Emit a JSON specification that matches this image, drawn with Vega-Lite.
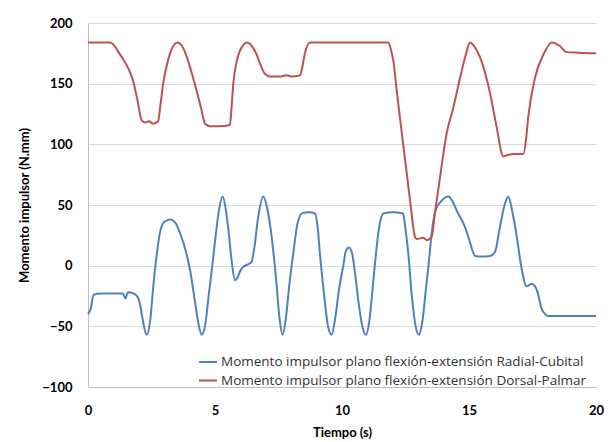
{
  "$schema": "https://vega.github.io/schema/vega-lite/v6.json",
  "width": 508,
  "height": 364,
  "autosize": {"type": "none"},
  "padding": {"left": 88, "top": 23, "right": 15, "bottom": 55},
  "background": "white",
  "config": {"view": {"stroke": null}, "font": "Lato"},
  "data": {
    "values": [
      {"serie": "Radial-Cubital", "tiempo": 0, "momento": -40},
      {"serie": "Radial-Cubital", "tiempo": 0.1, "momento": -36},
      {"serie": "Radial-Cubital", "tiempo": 0.22, "momento": -24},
      {"serie": "Radial-Cubital", "tiempo": 0.5, "momento": -23},
      {"serie": "Radial-Cubital", "tiempo": 1.0, "momento": -23},
      {"serie": "Radial-Cubital", "tiempo": 1.38, "momento": -23},
      {"serie": "Radial-Cubital", "tiempo": 1.47, "momento": -27},
      {"serie": "Radial-Cubital", "tiempo": 1.58, "momento": -22},
      {"serie": "Radial-Cubital", "tiempo": 1.8, "momento": -23},
      {"serie": "Radial-Cubital", "tiempo": 1.93, "momento": -25},
      {"serie": "Radial-Cubital", "tiempo": 2.05, "momento": -32},
      {"serie": "Radial-Cubital", "tiempo": 2.15, "momento": -44},
      {"serie": "Radial-Cubital", "tiempo": 2.31, "momento": -57},
      {"serie": "Radial-Cubital", "tiempo": 2.45, "momento": -45},
      {"serie": "Radial-Cubital", "tiempo": 2.57, "momento": -17},
      {"serie": "Radial-Cubital", "tiempo": 2.7, "momento": 8},
      {"serie": "Radial-Cubital", "tiempo": 2.83, "momento": 27},
      {"serie": "Radial-Cubital", "tiempo": 3.0, "momento": 36},
      {"serie": "Radial-Cubital", "tiempo": 3.23, "momento": 38},
      {"serie": "Radial-Cubital", "tiempo": 3.45, "momento": 35},
      {"serie": "Radial-Cubital", "tiempo": 3.62, "momento": 27},
      {"serie": "Radial-Cubital", "tiempo": 3.85, "momento": 12},
      {"serie": "Radial-Cubital", "tiempo": 4.02, "momento": -4},
      {"serie": "Radial-Cubital", "tiempo": 4.2, "momento": -28},
      {"serie": "Radial-Cubital", "tiempo": 4.35, "momento": -48},
      {"serie": "Radial-Cubital", "tiempo": 4.48, "momento": -57},
      {"serie": "Radial-Cubital", "tiempo": 4.62, "momento": -48},
      {"serie": "Radial-Cubital", "tiempo": 4.75, "momento": -25},
      {"serie": "Radial-Cubital", "tiempo": 4.87, "momento": -4},
      {"serie": "Radial-Cubital", "tiempo": 5.0, "momento": 20},
      {"serie": "Radial-Cubital", "tiempo": 5.15, "momento": 45},
      {"serie": "Radial-Cubital", "tiempo": 5.3, "momento": 57},
      {"serie": "Radial-Cubital", "tiempo": 5.42, "momento": 47},
      {"serie": "Radial-Cubital", "tiempo": 5.53, "momento": 29},
      {"serie": "Radial-Cubital", "tiempo": 5.65, "momento": 5},
      {"serie": "Radial-Cubital", "tiempo": 5.79, "momento": -12},
      {"serie": "Radial-Cubital", "tiempo": 5.9, "momento": -9},
      {"serie": "Radial-Cubital", "tiempo": 6.0, "momento": -4},
      {"serie": "Radial-Cubital", "tiempo": 6.11, "momento": -1},
      {"serie": "Radial-Cubital", "tiempo": 6.3, "momento": 1},
      {"serie": "Radial-Cubital", "tiempo": 6.44, "momento": 3},
      {"serie": "Radial-Cubital", "tiempo": 6.55, "momento": 15},
      {"serie": "Radial-Cubital", "tiempo": 6.7, "momento": 40},
      {"serie": "Radial-Cubital", "tiempo": 6.9, "momento": 57},
      {"serie": "Radial-Cubital", "tiempo": 7.05, "momento": 48},
      {"serie": "Radial-Cubital", "tiempo": 7.23, "momento": 24},
      {"serie": "Radial-Cubital", "tiempo": 7.4, "momento": -10},
      {"serie": "Radial-Cubital", "tiempo": 7.55, "momento": -45},
      {"serie": "Radial-Cubital", "tiempo": 7.66, "momento": -57},
      {"serie": "Radial-Cubital", "tiempo": 7.78, "momento": -45},
      {"serie": "Radial-Cubital", "tiempo": 7.93, "momento": -15},
      {"serie": "Radial-Cubital", "tiempo": 8.08, "momento": 10},
      {"serie": "Radial-Cubital", "tiempo": 8.25, "momento": 35},
      {"serie": "Radial-Cubital", "tiempo": 8.45, "momento": 43.5},
      {"serie": "Radial-Cubital", "tiempo": 8.7, "momento": 44},
      {"serie": "Radial-Cubital", "tiempo": 8.94, "momento": 43},
      {"serie": "Radial-Cubital", "tiempo": 9.05, "momento": 30},
      {"serie": "Radial-Cubital", "tiempo": 9.13, "momento": 10},
      {"serie": "Radial-Cubital", "tiempo": 9.3, "momento": -25},
      {"serie": "Radial-Cubital", "tiempo": 9.45, "momento": -50},
      {"serie": "Radial-Cubital", "tiempo": 9.59, "momento": -57},
      {"serie": "Radial-Cubital", "tiempo": 9.72, "momento": -45},
      {"serie": "Radial-Cubital", "tiempo": 9.88, "momento": -20},
      {"serie": "Radial-Cubital", "tiempo": 10.05, "momento": 0},
      {"serie": "Radial-Cubital", "tiempo": 10.15, "momento": 12},
      {"serie": "Radial-Cubital", "tiempo": 10.27, "momento": 15},
      {"serie": "Radial-Cubital", "tiempo": 10.4, "momento": 10},
      {"serie": "Radial-Cubital", "tiempo": 10.5, "momento": -4},
      {"serie": "Radial-Cubital", "tiempo": 10.65, "momento": -30},
      {"serie": "Radial-Cubital", "tiempo": 10.8, "momento": -50},
      {"serie": "Radial-Cubital", "tiempo": 10.94, "momento": -57},
      {"serie": "Radial-Cubital", "tiempo": 11.08, "momento": -45},
      {"serie": "Radial-Cubital", "tiempo": 11.2, "momento": -20},
      {"serie": "Radial-Cubital", "tiempo": 11.3, "momento": 2},
      {"serie": "Radial-Cubital", "tiempo": 11.45, "momento": 30},
      {"serie": "Radial-Cubital", "tiempo": 11.63, "momento": 43},
      {"serie": "Radial-Cubital", "tiempo": 12.0, "momento": 44},
      {"serie": "Radial-Cubital", "tiempo": 12.4, "momento": 43},
      {"serie": "Radial-Cubital", "tiempo": 12.5, "momento": 30},
      {"serie": "Radial-Cubital", "tiempo": 12.61, "momento": 10},
      {"serie": "Radial-Cubital", "tiempo": 12.75, "momento": -25},
      {"serie": "Radial-Cubital", "tiempo": 12.9, "momento": -50},
      {"serie": "Radial-Cubital", "tiempo": 13.03, "momento": -57},
      {"serie": "Radial-Cubital", "tiempo": 13.17, "momento": -45},
      {"serie": "Radial-Cubital", "tiempo": 13.3, "momento": -20},
      {"serie": "Radial-Cubital", "tiempo": 13.4, "momento": -1},
      {"serie": "Radial-Cubital", "tiempo": 13.55, "momento": 30},
      {"serie": "Radial-Cubital", "tiempo": 13.69, "momento": 46},
      {"serie": "Radial-Cubital", "tiempo": 13.9, "momento": 53},
      {"serie": "Radial-Cubital", "tiempo": 14.19, "momento": 57},
      {"serie": "Radial-Cubital", "tiempo": 14.35, "momento": 53},
      {"serie": "Radial-Cubital", "tiempo": 14.55, "momento": 44},
      {"serie": "Radial-Cubital", "tiempo": 14.84, "momento": 32},
      {"serie": "Radial-Cubital", "tiempo": 15.0, "momento": 22},
      {"serie": "Radial-Cubital", "tiempo": 15.24, "momento": 8},
      {"serie": "Radial-Cubital", "tiempo": 15.5, "momento": 7.5},
      {"serie": "Radial-Cubital", "tiempo": 15.83, "momento": 8},
      {"serie": "Radial-Cubital", "tiempo": 16.02, "momento": 11},
      {"serie": "Radial-Cubital", "tiempo": 16.2, "momento": 30},
      {"serie": "Radial-Cubital", "tiempo": 16.4, "momento": 50},
      {"serie": "Radial-Cubital", "tiempo": 16.55, "momento": 57},
      {"serie": "Radial-Cubital", "tiempo": 16.7, "momento": 45},
      {"serie": "Radial-Cubital", "tiempo": 16.88, "momento": 24},
      {"serie": "Radial-Cubital", "tiempo": 17.05, "momento": 0},
      {"serie": "Radial-Cubital", "tiempo": 17.27, "momento": -17},
      {"serie": "Radial-Cubital", "tiempo": 17.47, "momento": -15},
      {"serie": "Radial-Cubital", "tiempo": 17.6, "momento": -17},
      {"serie": "Radial-Cubital", "tiempo": 17.7, "momento": -22},
      {"serie": "Radial-Cubital", "tiempo": 17.85, "momento": -35},
      {"serie": "Radial-Cubital", "tiempo": 18.0, "momento": -40},
      {"serie": "Radial-Cubital", "tiempo": 18.12, "momento": -41.5},
      {"serie": "Radial-Cubital", "tiempo": 19.0, "momento": -41.5},
      {"serie": "Radial-Cubital", "tiempo": 20.0, "momento": -41.5},
      {"serie": "Dorsal-Palmar", "tiempo": 0, "momento": 184},
      {"serie": "Dorsal-Palmar", "tiempo": 0.87, "momento": 184},
      {"serie": "Dorsal-Palmar", "tiempo": 1.05, "momento": 181},
      {"serie": "Dorsal-Palmar", "tiempo": 1.2, "momento": 176},
      {"serie": "Dorsal-Palmar", "tiempo": 1.39, "momento": 170},
      {"serie": "Dorsal-Palmar", "tiempo": 1.6, "momento": 162},
      {"serie": "Dorsal-Palmar", "tiempo": 1.78, "momento": 152},
      {"serie": "Dorsal-Palmar", "tiempo": 1.95, "momento": 136},
      {"serie": "Dorsal-Palmar", "tiempo": 2.11, "momento": 120},
      {"serie": "Dorsal-Palmar", "tiempo": 2.25, "momento": 118},
      {"serie": "Dorsal-Palmar", "tiempo": 2.4, "momento": 119},
      {"serie": "Dorsal-Palmar", "tiempo": 2.55, "momento": 117},
      {"serie": "Dorsal-Palmar", "tiempo": 2.76, "momento": 119},
      {"serie": "Dorsal-Palmar", "tiempo": 2.85, "momento": 132},
      {"serie": "Dorsal-Palmar", "tiempo": 2.96, "momento": 150},
      {"serie": "Dorsal-Palmar", "tiempo": 3.1, "momento": 165},
      {"serie": "Dorsal-Palmar", "tiempo": 3.23, "momento": 175},
      {"serie": "Dorsal-Palmar", "tiempo": 3.52, "momento": 184},
      {"serie": "Dorsal-Palmar", "tiempo": 3.7, "momento": 181},
      {"serie": "Dorsal-Palmar", "tiempo": 3.89, "momento": 172},
      {"serie": "Dorsal-Palmar", "tiempo": 4.08, "momento": 159},
      {"serie": "Dorsal-Palmar", "tiempo": 4.28, "momento": 144},
      {"serie": "Dorsal-Palmar", "tiempo": 4.45, "momento": 130},
      {"serie": "Dorsal-Palmar", "tiempo": 4.61, "momento": 117},
      {"serie": "Dorsal-Palmar", "tiempo": 4.8, "momento": 115},
      {"serie": "Dorsal-Palmar", "tiempo": 5.2, "momento": 115},
      {"serie": "Dorsal-Palmar", "tiempo": 5.59, "momento": 116},
      {"serie": "Dorsal-Palmar", "tiempo": 5.65, "momento": 130},
      {"serie": "Dorsal-Palmar", "tiempo": 5.72, "momento": 150},
      {"serie": "Dorsal-Palmar", "tiempo": 5.85, "momento": 168},
      {"serie": "Dorsal-Palmar", "tiempo": 5.98, "momento": 177},
      {"serie": "Dorsal-Palmar", "tiempo": 6.27, "momento": 184},
      {"serie": "Dorsal-Palmar", "tiempo": 6.45, "momento": 181},
      {"serie": "Dorsal-Palmar", "tiempo": 6.64, "momento": 174},
      {"serie": "Dorsal-Palmar", "tiempo": 6.8, "momento": 165},
      {"serie": "Dorsal-Palmar", "tiempo": 6.97, "momento": 158},
      {"serie": "Dorsal-Palmar", "tiempo": 7.17, "momento": 156},
      {"serie": "Dorsal-Palmar", "tiempo": 7.6, "momento": 156},
      {"serie": "Dorsal-Palmar", "tiempo": 7.8, "momento": 157},
      {"serie": "Dorsal-Palmar", "tiempo": 8.0, "momento": 156},
      {"serie": "Dorsal-Palmar", "tiempo": 8.35, "momento": 157},
      {"serie": "Dorsal-Palmar", "tiempo": 8.45, "momento": 165},
      {"serie": "Dorsal-Palmar", "tiempo": 8.54, "momento": 175},
      {"serie": "Dorsal-Palmar", "tiempo": 8.74, "momento": 184},
      {"serie": "Dorsal-Palmar", "tiempo": 10.0, "momento": 184},
      {"serie": "Dorsal-Palmar", "tiempo": 11.82, "momento": 184},
      {"serie": "Dorsal-Palmar", "tiempo": 11.95, "momento": 176},
      {"serie": "Dorsal-Palmar", "tiempo": 12.02, "momento": 169},
      {"serie": "Dorsal-Palmar", "tiempo": 12.15, "momento": 145},
      {"serie": "Dorsal-Palmar", "tiempo": 12.28, "momento": 122},
      {"serie": "Dorsal-Palmar", "tiempo": 12.55, "momento": 76},
      {"serie": "Dorsal-Palmar", "tiempo": 12.7, "momento": 50},
      {"serie": "Dorsal-Palmar", "tiempo": 12.87, "momento": 24},
      {"serie": "Dorsal-Palmar", "tiempo": 12.94, "momento": 22},
      {"serie": "Dorsal-Palmar", "tiempo": 13.2, "momento": 23},
      {"serie": "Dorsal-Palmar", "tiempo": 13.35, "momento": 21},
      {"serie": "Dorsal-Palmar", "tiempo": 13.53, "momento": 24},
      {"serie": "Dorsal-Palmar", "tiempo": 13.65, "momento": 42},
      {"serie": "Dorsal-Palmar", "tiempo": 13.86, "momento": 73},
      {"serie": "Dorsal-Palmar", "tiempo": 14.12, "momento": 109},
      {"serie": "Dorsal-Palmar", "tiempo": 14.38, "momento": 130},
      {"serie": "Dorsal-Palmar", "tiempo": 14.65, "momento": 155},
      {"serie": "Dorsal-Palmar", "tiempo": 14.85, "momento": 172},
      {"serie": "Dorsal-Palmar", "tiempo": 15.04, "momento": 184},
      {"serie": "Dorsal-Palmar", "tiempo": 15.2, "momento": 181},
      {"serie": "Dorsal-Palmar", "tiempo": 15.43, "momento": 172},
      {"serie": "Dorsal-Palmar", "tiempo": 15.83, "momento": 142},
      {"serie": "Dorsal-Palmar", "tiempo": 16.09, "momento": 114},
      {"serie": "Dorsal-Palmar", "tiempo": 16.35, "momento": 90},
      {"serie": "Dorsal-Palmar", "tiempo": 16.48, "momento": 91},
      {"serie": "Dorsal-Palmar", "tiempo": 16.8, "momento": 92},
      {"serie": "Dorsal-Palmar", "tiempo": 17.14, "momento": 92},
      {"serie": "Dorsal-Palmar", "tiempo": 17.25, "momento": 105},
      {"serie": "Dorsal-Palmar", "tiempo": 17.33, "momento": 122},
      {"serie": "Dorsal-Palmar", "tiempo": 17.6, "momento": 155},
      {"serie": "Dorsal-Palmar", "tiempo": 17.93, "momento": 174},
      {"serie": "Dorsal-Palmar", "tiempo": 18.26, "momento": 184},
      {"serie": "Dorsal-Palmar", "tiempo": 18.58, "momento": 181},
      {"serie": "Dorsal-Palmar", "tiempo": 18.84, "momento": 176},
      {"serie": "Dorsal-Palmar", "tiempo": 19.3, "momento": 175.5},
      {"serie": "Dorsal-Palmar", "tiempo": 20.0, "momento": 175}
    ]
  },
  "mark": {"type": "line", "interpolate": "monotone", "strokeWidth": 2},
  "encoding": {
    "x": {
      "field": "tiempo",
      "type": "quantitative",
      "title": "Tiempo (s)",
      "scale": {"domain": [0, 20], "nice": false},
      "axis": {
        "values": [0, 5, 10, 15, 20],
        "grid": false,
        "ticks": false,
        "tickSize": 0,
        "domainColor": "#BFBFBF",
        "labelFontSize": 13,
        "labelFontWeight": "bold",
        "labelColor": "#000000",
        "labelPadding": 17,
        "labelFlush": false,
        "titleFontSize": 13,
        "titleFontWeight": "bold",
        "titleColor": "#000000",
        "titlePadding": 9
      }
    },
    "y": {
      "field": "momento",
      "type": "quantitative",
      "title": "Momento impulsor (N.mm)",
      "scale": {"domain": [-100, 200], "nice": false},
      "axis": {
        "values": [-100, -50, 0, 50, 100, 150, 200],
        "gridColor": "#D9D9D9",
        "ticks": false,
        "tickSize": 0,
        "domainColor": "#BFBFBF",
        "labelFontSize": 13,
        "labelFontWeight": "bold",
        "labelColor": "#000000",
        "labelPadding": 16,
        "titleFontSize": 13,
        "titleFontWeight": "bold",
        "titleColor": "#000000",
        "titlePadding": 10
      }
    },
    "color": {
      "field": "serie",
      "type": "nominal",
      "scale": {
        "domain": ["Radial-Cubital", "Dorsal-Palmar"],
        "range": ["#4F81BD", "#C0504D"]
      },
      "legend": {
        "title": null,
        "orient": "none",
        "legendX": 110,
        "legendY": 329,
        "symbolType": "stroke",
        "symbolSize": 324,
        "symbolStrokeWidth": 2,
        "labelFont": "Open Sans",
        "labelFontSize": 13.5,
        "labelColor": "#333333",
        "labelLimit": 0,
        "labelOffset": 3,
        "rowPadding": 1.5,
        "labelExpr": "'Momento impulsor plano flexión-extensión ' + datum.label"
      }
    }
  }
}
